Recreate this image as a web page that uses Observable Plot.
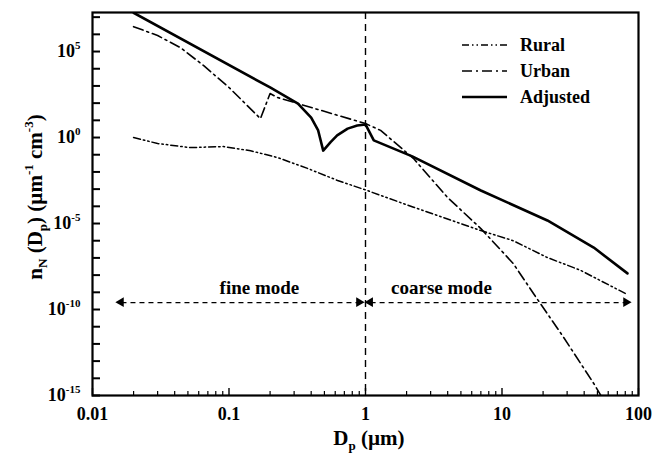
<!DOCTYPE html>
<html><head><meta charset="utf-8">
<script src="https://cdn.jsdelivr.net/npm/d3@7"></script>
<script src="https://cdn.jsdelivr.net/npm/@observablehq/plot@0.6"></script>
<style>
html,body{margin:0;padding:0;background:#fff;}
#wrap{position:relative;width:665px;height:455px;}
#legend{position:absolute;left:462px;top:32px;font:bold 18px "Liberation Serif",serif;color:#000;}
.row{display:flex;align-items:center;height:26px;}
.row svg{width:45px;height:10px;margin-right:13px;display:block;}
</style></head><body><div id="wrap"></div>
<script>
// ---- data ----
const ruralD = [0.02, 0.03, 0.052, 0.091, 0.144, 0.226, 0.376, 0.624, 1.03, 1.29, 2.25, 7.0, 12.1, 21.5, 37.6, 83];
const ruralN = [1.0, 0.45, 0.26, 0.30, 0.17, 0.069, 0.016, 3.2e-3, 8.3e-4, 4.3e-4, 8.9e-5, 3.9e-6, 1.0e-6, 1.05e-7, 1.9e-8, 7.4e-10];

const urbanD = [0.02, 0.03, 0.044, 0.065, 0.10, 0.17, 0.2, 0.226, 1.0, 1.29, 2.25, 4.0, 7.0, 12.1, 17, 28, 47, 53];
const urbanN = [2.8e6, 8.5e5, 1.7e5, 1.55e4, 813, 12.6, 363, 214, 6.5, 2.6, 0.06, 3.2e-4, 5.1e-6, 4.7e-8, 8.5e-10, 2.7e-12, 5e-15, 1e-15];

const adjustedD = [0.02, 0.2, 0.32, 0.4, 0.45, 0.49, 0.555, 0.62, 0.74, 0.87, 1.0, 1.15, 2.2, 7.0, 21.5, 47, 83];
const adjustedN = [1.8e7, 813, 95, 14.5, 2.57, 0.174, 0.54, 1.32, 3.3, 5.0, 5.75, 0.68, 0.08, 8.3e-4, 1.5e-5, 4e-7, 1.26e-8];

const seriesNames = ["Rural", "Urban", "Adjusted"];
const seriesDash = ["7,3,1.5,3,1.5,3", "10,4,2,4", null];
const seriesWidth = [1.5, 1.6, 2.6];

const modeNames = ["fine mode", "coarse mode"];
const modeFrom = [0.0163, 1.09];
const modeTo = [0.904, 81.7];
const modeArrowN = 2.5e-10;
const modeLabelD = [0.167, 3.6];
const modeLabelN = 1.9e-9;

const boundaryD = [1];

const xTickValues = [0.01, 0.1, 1, 10, 100];
const xTickLabels = ["0.01", "0.1", "1", "10", "100"];
const yLabelExps = [5, 0, -5, -10, -15];

// ---- layout ----
const W = 665, H = 455, mL = 92, mR = 27, mT = 12, mB = 60;
const plotW = W - mL - mR, plotH = H - mT - mB;

// ---- derived tables ----
const rows = (D, N, s) => D.map((d, i) => ({d, n: N[i], s}));
const rural = rows(ruralD, ruralN, "Rural");
const urban = rows(urbanD, urbanN, "Urban");
const adjusted = rows(adjustedD, adjustedN, "Adjusted");
const modes = modeNames.map((m, i) => ({m, x1: modeFrom[i], x2: modeTo[i], lx: modeLabelD[i]}));
const heads = modes.flatMap(o => [{x: o.x1, rot: -90, dx: 4}, {x: o.x2, rot: 90, dx: -4}]);
const xMinor = xTickValues.slice(0, 4).flatMap(v => [2,3,4,5,6,7,8,9].map(k => k * v));
const yDecades = d3.range(-15, 8).map(e => Number("1e" + e));
const yLabelVals = yLabelExps.map(e => Number("1e" + e));

const chart = Plot.plot({
  width: W, height: H,
  marginLeft: mL, marginRight: mR, marginTop: mT, marginBottom: mB,
  x: {type: "log", domain: [0.01, 100]},
  y: {type: "log", domain: [1e-15, Math.pow(10, 7.27)]},
  style: {fontFamily: "'Liberation Serif', serif", fontWeight: "bold", fontSize: "18px", background: "white", color: "black"},
  marks: [
    Plot.ruleX(boundaryD, {strokeDasharray: "7,5", strokeWidth: 1.4}),
    Plot.line(rural, {x: "d", y: "n", strokeDasharray: seriesDash[0], strokeWidth: seriesWidth[0], clip: true}),
    Plot.line(urban, {x: "d", y: "n", strokeDasharray: seriesDash[1], strokeWidth: seriesWidth[1], clip: true}),
    Plot.line(adjusted, {x: "d", y: "n", strokeWidth: seriesWidth[2], clip: true}),
    Plot.link(modes, {x1: "x1", x2: "x2", y1: () => modeArrowN, y2: () => modeArrowN, strokeDasharray: "5,4", strokeWidth: 1.4}),
    Plot.dot(heads, {x: "x", y: () => modeArrowN, symbol: "triangle", r: 3.6, fill: "black", stroke: "none", rotate: "rot", dx: "dx"}),
    Plot.text(modes, {x: "lx", y: () => modeLabelN, text: "m", fontSize: 19, fontWeight: "bold"}),
    Plot.axisX(xTickValues, {tickSize: 0, tickPadding: 12, tickFormat: d => xTickLabels[xTickValues.indexOf(d)], label: null}),
    Plot.axisY(yLabelVals, {tickSize: 0, tickPadding: 12, tickFormat: d => "10^" + yLabelExps[yLabelVals.indexOf(d)], label: null}),
    // inward ticks
    Plot.tickX(xTickValues, {x: d => d, insetTop: plotH - 7, stroke: "black", strokeWidth: 1.4}),
    Plot.tickX(xMinor, {x: d => d, insetTop: plotH - 4, stroke: "black", strokeWidth: 1.2}),
    Plot.tickY(yDecades, {y: d => d, insetRight: plotW - 8, stroke: "black", strokeWidth: 2}),
    Plot.frame({strokeWidth: 2.2})
  ]
});

document.getElementById("wrap").appendChild(chart);
const svg = d3.select(chart);

// superscripts on y tick labels
svg.selectAll('g[aria-label="y-axis tick label"] text').each(function() {
  const t = d3.select(this);
  const parts = t.text().split("^");
  t.text(null);
  t.append("tspan").text(parts[0]);
  t.append("tspan").attr("font-size", "11px").attr("dy", "-8").text(parts[1]);
});

function rich(sel, parts) {
  let shift = 0;
  parts.forEach(p => {
    const target = p.k === "sub" ? 5 : p.k === "sup" ? -9 : 0;
    const ts = sel.append("tspan").attr("dy", target - shift).text(p.t);
    if (p.k) ts.attr("font-size", "0.62em");
    shift = target;
  });
}

const yl = svg.append("text")
  .attr("transform", "translate(42,197) rotate(-90)")
  .attr("text-anchor", "middle").attr("font-size", 21).attr("font-weight", "bold").attr("fill", "black");
rich(yl, [{t: "n"}, {t: "N", k: "sub"}, {t: " (D"}, {t: "p", k: "sub"}, {t: ") (\u00b5m"}, {t: "-1", k: "sup"}, {t: " cm"}, {t: "-3", k: "sup"}, {t: ")"}]);

const xl = svg.append("text")
  .attr("x", 369).attr("y", 445)
  .attr("text-anchor", "middle").attr("font-size", 21).attr("font-weight", "bold").attr("fill", "black");
rich(xl, [{t: "D"}, {t: "p", k: "sub"}, {t: " (\u00b5m)"}]);

// legend
const leg = d3.select("#wrap").append("div").attr("id", "legend");
seriesNames.forEach((name, i) => {
  const row = leg.append("div").attr("class", "row");
  const s = row.append("svg").attr("viewBox", "0 0 45 10");
  s.append("line").attr("x1", 0).attr("x2", 45).attr("y1", 5).attr("y2", 5)
    .attr("stroke", "black").attr("stroke-width", seriesWidth[i])
    .attr("stroke-dasharray", seriesDash[i]);
  row.append("span").text(name);
});
</script>
</body></html>
